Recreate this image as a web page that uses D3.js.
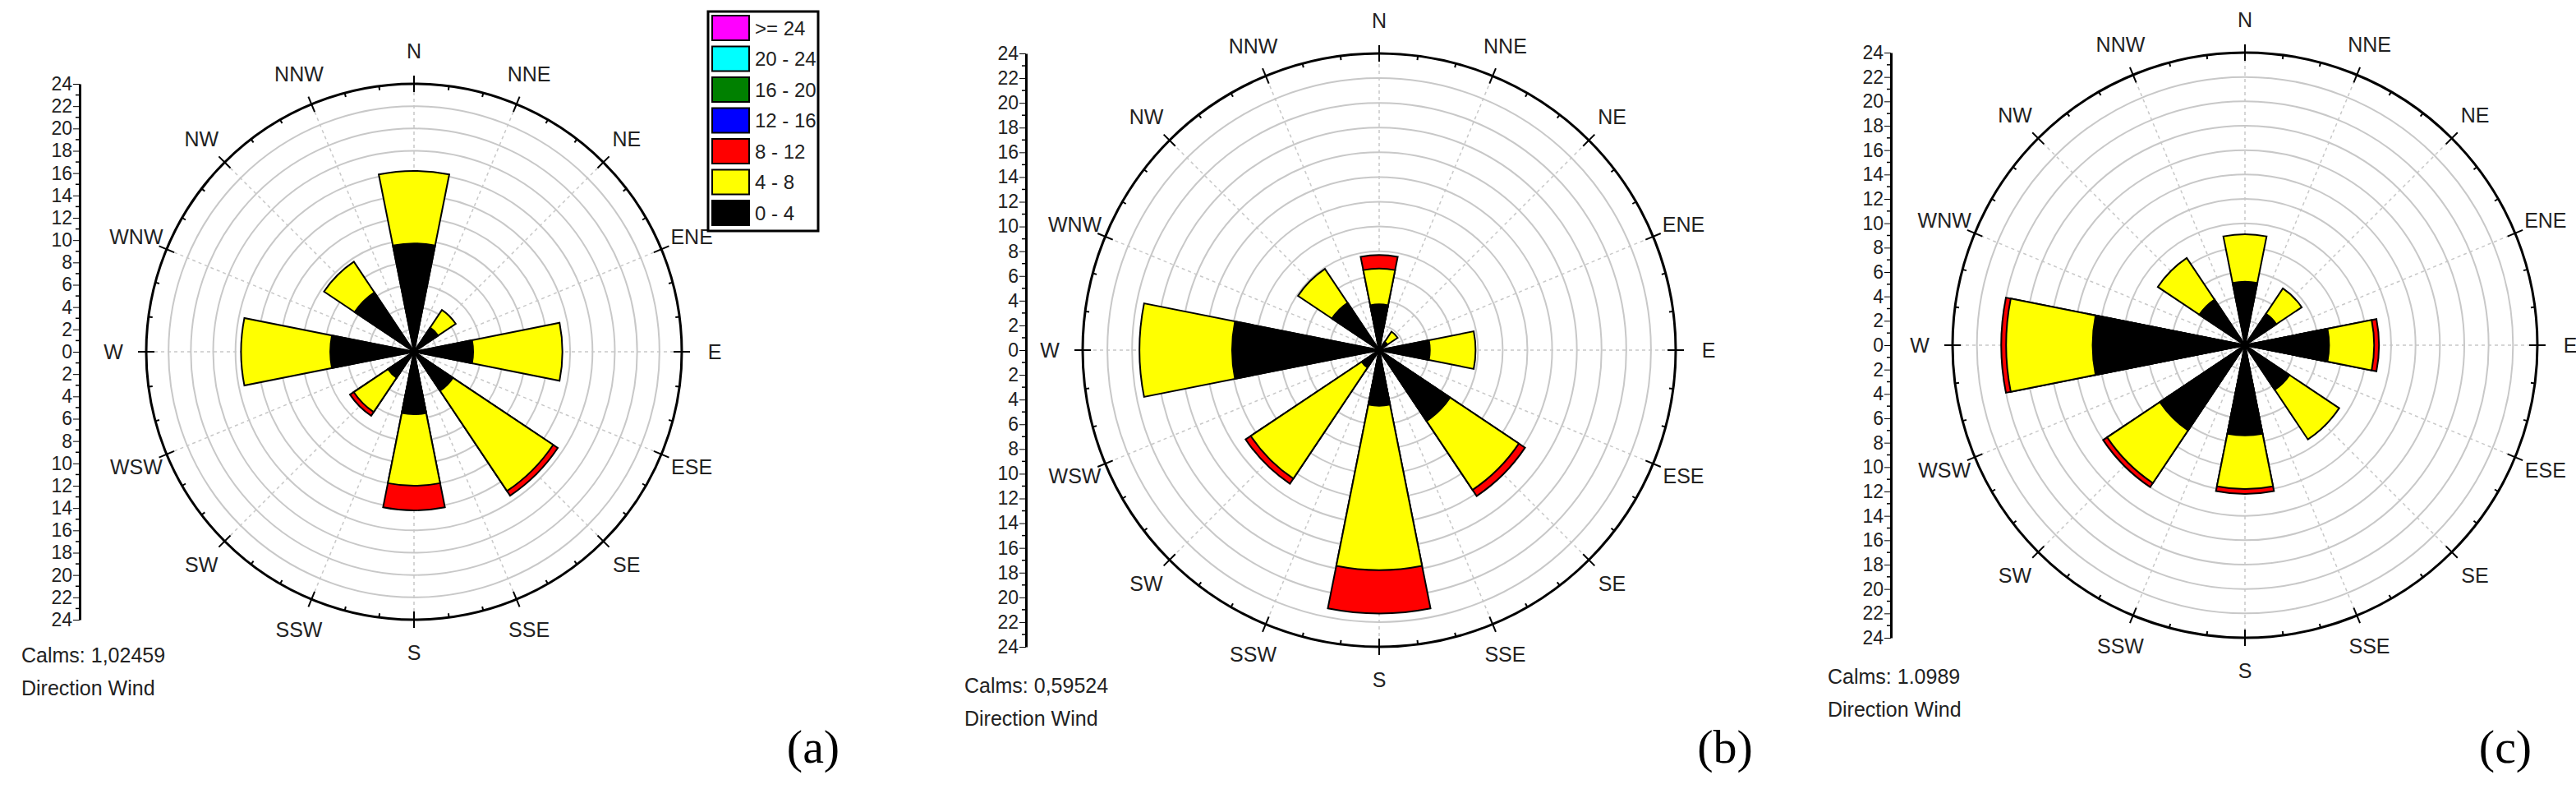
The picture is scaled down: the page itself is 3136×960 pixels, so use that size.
<!DOCTYPE html>
<html>
<head>
<meta charset="utf-8">
<script src="https://cdn.jsdelivr.net/npm/d3@7"></script>
<style>
  body { margin: 0; background: #fff; }
</style>
</head>
<body>
<div id="draw"></div>
<script>
// directions, clockwise from north
let dirs = ['N','NNE','NE','ENE','E','ESE','SE','SSE','S','SSW','SW','WSW','W','WNW','NW','NNW'];
let radTicks = d3.range(0, 25, 2);

// cumulative frequency (%) at the top of each speed band
let a_0_4  = [9.7,0,2.6,0,5.3,0,4.2,0,5.6,0,2.8,0,7.5,0,6.4,0];
let a_4_8  = [16.2,0,4.5,0,13.3,0,15.0,0,12.0,0,6.5,0,15.5,0,9.7,0];
let a_8_12 = [16.2,0,4.5,0,13.3,0,15.5,0,14.2,0,6.9,0,15.5,0,9.7,0];

let b_0_4  = [3.7,0,0.8,0,4.1,0,6.9,0,4.5,0,1.7,0,11.9,0,4.6,0];
let b_4_8  = [6.6,0,1.8,0,7.8,0,13.6,0,17.8,0,12.5,0,19.4,0,7.9,0];
let b_8_12 = [7.7,0,1.8,0,7.8,0,14.2,0,21.3,0,13.0,0,19.4,0,7.9,0];

let c_0_4  = [5.2,0,3.1,0,6.9,0,4.4,0,7.4,0,8.4,0,12.5,0,4.5,0];
let c_4_8  = [9.1,0,5.6,0,10.6,0,9.3,0,11.8,0,13.6,0,19.6,0,8.6,0];
let c_8_12 = [9.1,0,5.6,0,11.0,0,9.3,0,12.2,0,14.0,0,20.0,0,8.6,0];

let calms = ['Calms: 1,02459', 'Calms: 0,59524', 'Calms: 1.0989'];
let panelTags = ['(a)', '(b)', '(c)'];

let bands = ['0 - 4', '4 - 8', '8 - 12', '12 - 16', '16 - 20', '20 - 24', '>= 24'];
let bandColors = ['#000000', '#ffff00', '#ff0000', '#0000ff', '#008000', '#00ffff', '#ff00ff'];

let panels = [
  {series: [a_0_4, a_4_8, a_8_12], cx: 504, cy: 428, r: 326, ax: 97, tx: 26, ty: 806, lx: 990},
  {series: [b_0_4, b_4_8, b_8_12], cx: 1679, cy: 426, r: 361, ax: 1249, tx: 1174, ty: 843, lx: 2100},
  {series: [c_0_4, c_4_8, c_8_12], cx: 2733, cy: 420, r: 356, ax: 2302, tx: 2225, ty: 832, lx: 3050}
];

let sans = '"Liberation Sans", Arial, sans-serif';

let svg = d3.select('#draw')
    .append('svg')
    .attr('width', 3136)
    .attr('height', 960)
    .style('font-family', sans);

let step = 2 * Math.PI / dirs.length;

panels.forEach((p, pi) => {
  let rs = d3.scaleLinear().domain([0, 24]).range([0, p.r]);
  let g = svg.append('g').attr('transform', `translate(${p.cx},${p.cy})`);

  // grid circles
  g.selectAll('circle.grid')
    .data(radTicks.slice(1, -1))
    .enter().append('circle')
      .attr('r', d => rs(d))
      .attr('fill', 'none')
      .attr('stroke', '#c8c8c8')
      .attr('stroke-width', 2);

  // radial dashed lines
  g.selectAll('line.spoke')
    .data(dirs)
    .enter().append('line')
      .attr('x2', (d, i) => p.r * Math.sin(i * step))
      .attr('y2', (d, i) => -p.r * Math.cos(i * step))
      .attr('stroke', '#c8c8c8')
      .attr('stroke-width', 1.5)
      .attr('stroke-dasharray', '4,4');

  // bars, outermost band first
  let arc = d3.arc();
  for (let b = p.series.length - 1; b >= 0; b--) {
    g.selectAll('path.b' + b)
      .data(p.series[b].map((v, i) => ({v: v, lo: b > 0 ? p.series[b - 1][i] : 0, i: i}))
        .filter(d => d.v > d.lo))
      .enter().append('path')
        .attr('d', d => arc({innerRadius: 0, outerRadius: rs(d.v),
          startAngle: d.i * step - step / 2, endAngle: d.i * step + step / 2}))
        .attr('fill', bandColors[b])
        .attr('stroke', '#000')
        .attr('stroke-width', 2);
  }

  // outer circle
  g.append('circle')
    .attr('r', p.r)
    .attr('fill', 'none')
    .attr('stroke', '#000')
    .attr('stroke-width', 3);

  // ticks on outer circle
  g.selectAll('line.otick')
    .data(d3.range(48))
    .enter().append('line')
      .attr('x1', i => (p.r - (i % 3 == 0 ? 10 : 5)) * Math.sin(i * step / 3))
      .attr('y1', i => -(p.r - (i % 3 == 0 ? 10 : 5)) * Math.cos(i * step / 3))
      .attr('x2', i => (p.r + (i % 3 == 0 ? 10 : 0)) * Math.sin(i * step / 3))
      .attr('y2', i => -(p.r + (i % 3 == 0 ? 10 : 0)) * Math.cos(i * step / 3))
      .attr('stroke', '#000')
      .attr('stroke-width', 2);

  // direction labels
  g.selectAll('text.dir')
    .data(dirs)
    .enter().append('text')
      .attr('x', (d, i) => (p.r + 40) * Math.sin(i * step))
      .attr('y', (d, i) => -(p.r + 40) * Math.cos(i * step))
      .attr('text-anchor', 'middle')
      .attr('dominant-baseline', 'central')
      .attr('font-size', 25)
      .attr('fill', '#222')
      .text(d => d);

  // vertical radial axis, 24 .. 0 .. 24
  let ya = d3.scaleLinear().domain([-24, 24]).range([p.cy - p.r, p.cy + p.r]);
  let axis = d3.axisLeft(ya)
    .tickValues(d3.range(-24, 25, 2))
    .tickFormat(d => Math.abs(d))
    .tickSize(8)
    .tickSizeOuter(0);
  let ag = svg.append('g')
    .attr('transform', `translate(${p.ax},0)`)
    .call(axis)
    .attr('font-family', null);
  ag.select('.domain').attr('stroke-width', 3);
  ag.selectAll('text').attr('font-size', 23).attr('fill', '#222').attr('x', -9)
    .style('font-family', '"Liberation Sans Narrow", "Liberation Sans", sans-serif');
  ag.selectAll('.minor')
    .data(d3.range(-23, 24, 2))
    .enter().append('line')
      .attr('x2', -5)
      .attr('y1', d => ya(d))
      .attr('y2', d => ya(d))
      .attr('stroke', '#000')
      .attr('stroke-width', 1.5);

  svg.append('text')
    .attr('x', p.tx).attr('y', p.ty)
    .attr('font-size', 25).attr('fill', '#222')
    .text(calms[pi]);
  svg.append('text')
    .attr('x', p.tx).attr('y', p.ty + 40)
    .attr('font-size', 25).attr('fill', '#222')
    .text('Direction Wind');
  svg.append('text')
    .attr('x', p.lx).attr('y', 928)
    .attr('text-anchor', 'middle')
    .style('font-family', '"Liberation Serif", "Times New Roman", serif')
    .attr('font-size', 58)
    .text(panelTags[pi]);
});

// legend (panel a)
let lg = svg.append('g').attr('transform', 'translate(862,14)');
lg.append('rect')
  .attr('width', 134).attr('height', 267)
  .attr('fill', '#fff').attr('stroke', '#000').attr('stroke-width', 3);
let items = bands.slice().reverse();
let cols = bandColors.slice().reverse();
lg.selectAll('rect.sw')
  .data(items)
  .enter().append('rect')
    .attr('x', 5).attr('y', (d, i) => 5 + i * 37.5)
    .attr('width', 45).attr('height', 30)
    .attr('fill', (d, i) => cols[i])
    .attr('stroke', '#000').attr('stroke-width', 2);
lg.selectAll('text')
  .data(items)
  .enter().append('text')
    .attr('x', 57).attr('y', (d, i) => 20 + i * 37.5)
    .attr('dominant-baseline', 'central')
    .attr('font-size', 24).attr('fill', '#222')
    .text(d => d);
</script>
</body>
</html>
